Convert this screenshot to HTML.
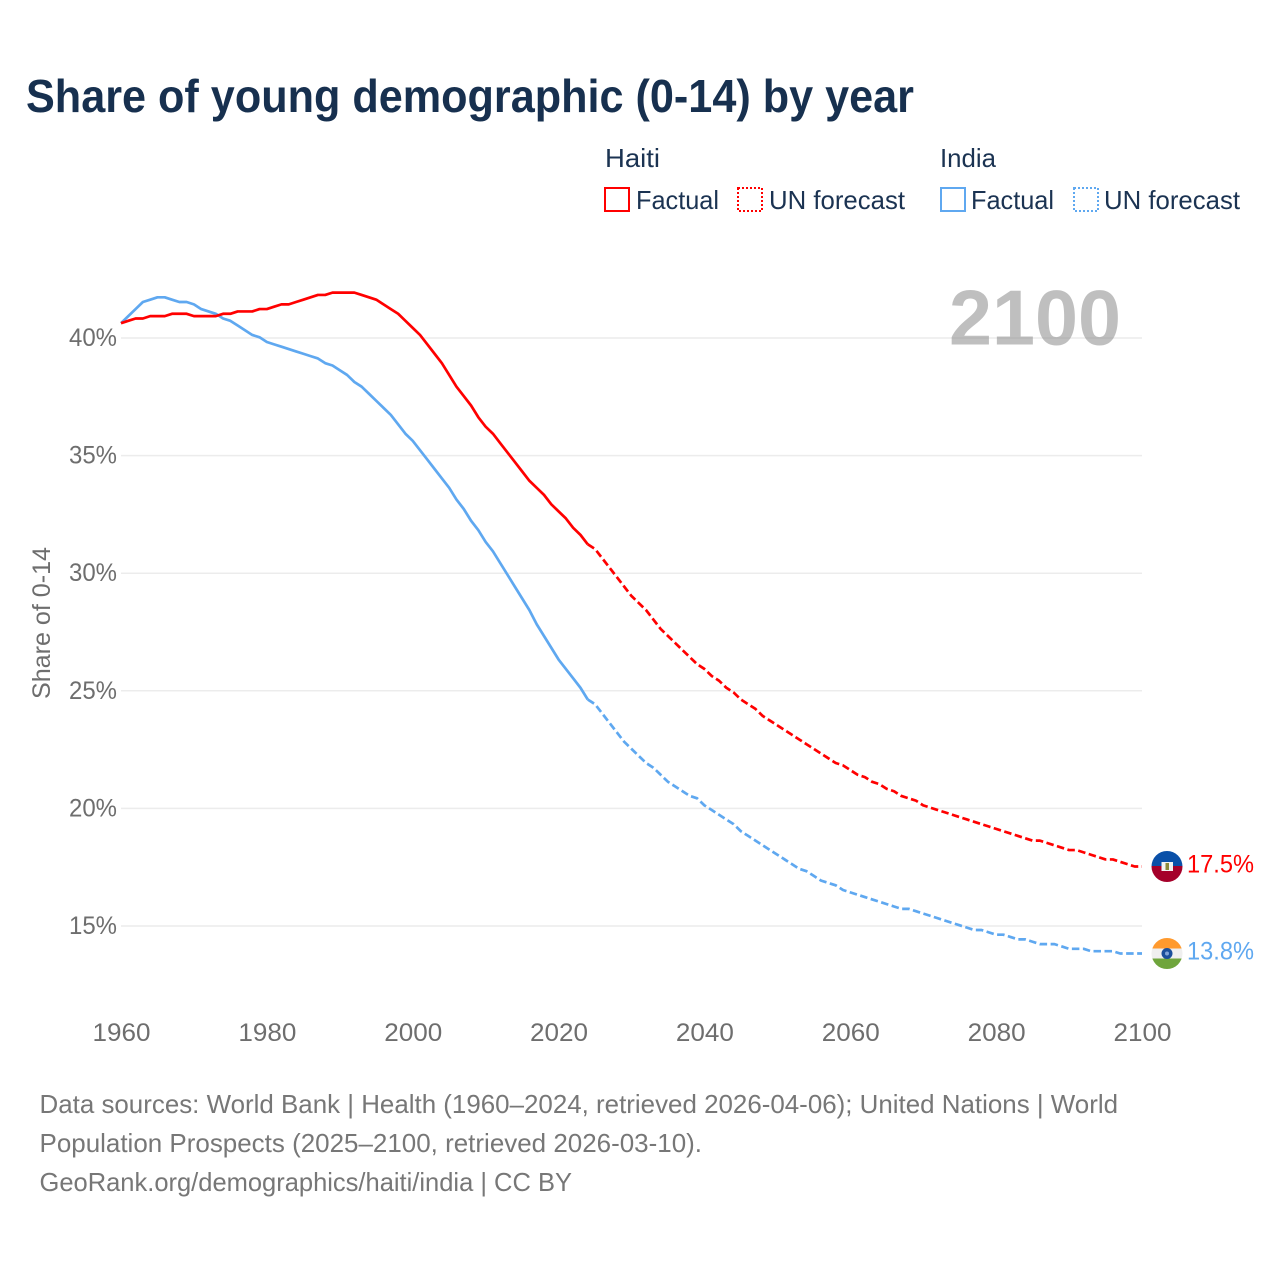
<!DOCTYPE html>
<html lang="en">
<head>
<meta charset="utf-8">
<title>Share of young demographic (0-14) by year</title>
<style>
html,body{margin:0;padding:0;background:#fff;width:1280px;height:1280px;overflow:hidden}
svg{display:block}
text{font-family:"Liberation Sans",sans-serif}
</style>
</head>
<body>
<svg id="chart" xmlns="http://www.w3.org/2000/svg" width="1280" height="1280" viewBox="0 0 1280 1280">
  <defs>
    <clipPath id="flag-clip-haiti"><circle cx="1167" cy="866.5" r="15.5"/></clipPath>
    <clipPath id="flag-clip-india"><circle cx="1167" cy="953.5" r="15.5"/></clipPath>
  </defs>
  <rect x="0" y="0" width="1280" height="1280" fill="#fff"/>
  <text x="26" y="112" font-size="46" font-weight="700" fill="#17304f" textLength="888" lengthAdjust="spacingAndGlyphs">Share of young demographic (0-14) by year</text>

  <g>
    <text x="605" y="167" font-size="26" fill="#1b3352" textLength="55" lengthAdjust="spacingAndGlyphs">Haiti</text>
    <rect x="605" y="188" width="24" height="23" fill="none" stroke="#ff0000" stroke-width="2"/>
    <text x="636" y="209" font-size="26" fill="#1b3352" textLength="83" lengthAdjust="spacingAndGlyphs">Factual</text>
    <rect x="738" y="188" width="24" height="23" fill="none" stroke="#ff0000" stroke-width="2" stroke-dasharray="2 2"/>
    <text x="769" y="209" font-size="26" fill="#1b3352" textLength="136" lengthAdjust="spacingAndGlyphs">UN forecast</text>
    <text x="940" y="167" font-size="26" fill="#1b3352" textLength="56" lengthAdjust="spacingAndGlyphs">India</text>
    <rect x="941" y="188" width="24" height="23" fill="none" stroke="#5fa8f0" stroke-width="2"/>
    <text x="971" y="209" font-size="26" fill="#1b3352" textLength="83" lengthAdjust="spacingAndGlyphs">Factual</text>
    <rect x="1074" y="188" width="24" height="23" fill="none" stroke="#5fa8f0" stroke-width="2" stroke-dasharray="2 2"/>
    <text x="1104" y="209" font-size="26" fill="#1b3352" textLength="136" lengthAdjust="spacingAndGlyphs">UN forecast</text>
  </g>

  <g id="grid"></g>
  <text x="949" y="344.5" font-size="78" font-weight="700" fill="#808080" fill-opacity="0.5" textLength="172" lengthAdjust="spacingAndGlyphs">2100</text>
  <g id="y-axis"></g>
  <g id="x-axis"></g>
  <text transform="translate(50,623) rotate(-90)" text-anchor="middle" font-size="25" fill="#6e6e6e" textLength="152" lengthAdjust="spacingAndGlyphs">Share of 0-14</text>
  <g id="series" transform="translate(0,-0.7)"></g>

  <g clip-path="url(#flag-clip-haiti)">
    <rect x="1151" y="851" width="32" height="15" fill="#0a50a8"/>
    <rect x="1151" y="866" width="32" height="16" fill="#a5002a"/>
    <rect x="1161.5" y="862" width="11.5" height="9" fill="#f2f2f2"/>
    <rect x="1165.5" y="863" width="3.5" height="7" fill="#8a8a3a"/>
  </g>
  <g clip-path="url(#flag-clip-india)">
    <rect x="1151" y="938" width="32" height="10.5" fill="#ff9a2e"/>
    <rect x="1151" y="948.5" width="32" height="10" fill="#efefef"/>
    <rect x="1151" y="958.5" width="32" height="11" fill="#6fa53c"/>
    <circle cx="1167" cy="953.5" r="5.5" fill="#1a4f9c"/>
    <circle cx="1167" cy="953.5" r="2" fill="#7fa3d8"/>
  </g>
  <text x="1187" y="872.5" font-size="25" fill="#ff0000" textLength="67" lengthAdjust="spacingAndGlyphs">17.5%</text>
  <text x="1187" y="959.5" font-size="25" fill="#5fa8f0" textLength="67" lengthAdjust="spacingAndGlyphs">13.8%</text>

  <g font-size="26" fill="#777777">
    <text x="39.5" y="1113" textLength="1078.5" lengthAdjust="spacingAndGlyphs">Data sources: World Bank | Health (1960–2024, retrieved 2026-04-06); United Nations | World</text>
    <text x="39.5" y="1152" textLength="662.5" lengthAdjust="spacingAndGlyphs">Population Prospects (2025–2100, retrieved 2026-03-10).</text>
    <text x="39.5" y="1191" textLength="532.5" lengthAdjust="spacingAndGlyphs">GeoRank.org/demographics/haiti/india | CC BY</text>
  </g>
</svg>
<script>
const xTickYears = [1960, 1980, 2000, 2020, 2040, 2060, 2080, 2100];
const yTickValues = [15, 20, 25, 30, 35, 40];
const factualStartYear = 1960;
const forecastStartYear = 2024;
const haitiFactual = [
  40.6, 40.7, 40.8, 40.8, 40.9, 40.9, 40.9, 41.0, 41.0, 41.0,
  40.9, 40.9, 40.9, 40.9, 41.0, 41.0, 41.1, 41.1, 41.1, 41.2,
  41.2, 41.3, 41.4, 41.4, 41.5, 41.6, 41.7, 41.8, 41.8, 41.9,
  41.9, 41.9, 41.9, 41.8, 41.7, 41.6, 41.4, 41.2, 41.0, 40.7,
  40.4, 40.1, 39.7, 39.3, 38.9, 38.4, 37.9, 37.5, 37.1, 36.6,
  36.2, 35.9, 35.5, 35.1, 34.7, 34.3, 33.9, 33.6, 33.3, 32.9,
  32.6, 32.3, 31.9, 31.6, 31.2
];
const haitiForecast = [
  31.2, 31.0, 30.6, 30.2, 29.8, 29.4, 29.0, 28.7, 28.4, 28.0,
  27.6, 27.3, 27.0, 26.7, 26.4, 26.1, 25.9, 25.6, 25.4, 25.1,
  24.9, 24.6, 24.4, 24.2, 23.9, 23.7, 23.5, 23.3, 23.1, 22.9,
  22.7, 22.5, 22.3, 22.1, 21.9, 21.8, 21.6, 21.4, 21.3, 21.1,
  21.0, 20.8, 20.7, 20.5, 20.4, 20.3, 20.1, 20.0, 19.9, 19.8,
  19.7, 19.6, 19.5, 19.4, 19.3, 19.2, 19.1, 19.0, 18.9, 18.8,
  18.7, 18.6, 18.6, 18.5, 18.4, 18.3, 18.2, 18.2, 18.1, 18.0,
  17.9, 17.8, 17.8, 17.7, 17.6, 17.5, 17.5
];
const indiaFactual = [
  40.6, 40.9, 41.2, 41.5, 41.6, 41.7, 41.7, 41.6, 41.5, 41.5,
  41.4, 41.2, 41.1, 41.0, 40.8, 40.7, 40.5, 40.3, 40.1, 40.0,
  39.8, 39.7, 39.6, 39.5, 39.4, 39.3, 39.2, 39.1, 38.9, 38.8,
  38.6, 38.4, 38.1, 37.9, 37.6, 37.3, 37.0, 36.7, 36.3, 35.9,
  35.6, 35.2, 34.8, 34.4, 34.0, 33.6, 33.1, 32.7, 32.2, 31.8,
  31.3, 30.9, 30.4, 29.9, 29.4, 28.9, 28.4, 27.8, 27.3, 26.8,
  26.3, 25.9, 25.5, 25.1, 24.6
];
const indiaForecast = [
  24.6, 24.4, 24.0, 23.6, 23.2, 22.8, 22.5, 22.2, 21.9, 21.7,
  21.4, 21.1, 20.9, 20.7, 20.5, 20.4, 20.1, 19.9, 19.7, 19.5,
  19.3, 19.0, 18.8, 18.6, 18.4, 18.2, 18.0, 17.8, 17.6, 17.4,
  17.3, 17.1, 16.9, 16.8, 16.7, 16.5, 16.4, 16.3, 16.2, 16.1,
  16.0, 15.9, 15.8, 15.7, 15.7, 15.6, 15.5, 15.4, 15.3, 15.2,
  15.1, 15.0, 14.9, 14.8, 14.8, 14.7, 14.6, 14.6, 14.5, 14.4,
  14.4, 14.3, 14.2, 14.2, 14.2, 14.1, 14.0, 14.0, 14.0, 13.9,
  13.9, 13.9, 13.9, 13.8, 13.8, 13.8, 13.8
];

const SVG_NS = 'http://www.w3.org/2000/svg';
function xScale(year) { return 121 + (year - 1960) * (1142 - 121) / 140; }
function yScale(pct) { return 338 + (40 - pct) * (926 - 338) / 25; }
function make(tag) { return document.createElementNS(SVG_NS, tag); }
function linePath(values, startYear) {
  return values.map(function (v, i) {
    return (i ? 'L' : 'M') + xScale(startYear + i).toFixed(2) + ' ' + yScale(v).toFixed(2);
  }).join(' ');
}

const gridGroup = document.getElementById('grid');
const yAxisGroup = document.getElementById('y-axis');
const xAxisGroup = document.getElementById('x-axis');
const seriesGroup = document.getElementById('series');

yTickValues.forEach(function (v) {
  const grid = make('line');
  
  
  grid.setAttribute('x1', 121);
  grid.setAttribute('x2', 1142);
  grid.setAttribute('y1', yScale(v));
  grid.setAttribute('y2', yScale(v));
  grid.setAttribute('stroke', '#ececec');
  grid.setAttribute('stroke-width', 1.5);
  gridGroup.appendChild(grid);

  const label = make('text');
  
  
  label.setAttribute('x', 69);
  label.setAttribute('y', yScale(v) + 8);
  label.setAttribute('font-size', 25);
  label.setAttribute('fill', '#6e6e6e');
  label.setAttribute('textLength', 48);
  label.setAttribute('lengthAdjust', 'spacingAndGlyphs');
  label.textContent = v + '%';
  yAxisGroup.appendChild(label);
});

xTickYears.forEach(function (year) {
  const label = make('text');
  
  
  label.setAttribute('x', xScale(year) - 28.5);
  label.setAttribute('y', 1041);
  label.setAttribute('font-size', 25);
  label.setAttribute('fill', '#6e6e6e');
  label.setAttribute('textLength', 58);
  label.setAttribute('lengthAdjust', 'spacingAndGlyphs');
  label.textContent = year;
  xAxisGroup.appendChild(label);
});

function drawLine(values, startYear, color, dash, name) {
  const path = make('path');
  
  
  path.setAttribute('d', linePath(values, startYear));
  path.setAttribute('fill', 'none');
  path.setAttribute('stroke', color);
  path.setAttribute('stroke-width', 2.7);
  path.setAttribute('stroke-linejoin', 'round');
  if (dash) path.setAttribute('stroke-dasharray', dash);
  seriesGroup.appendChild(path);
}

drawLine(indiaFactual, factualStartYear, '#5fa8f0', null, 'india-factual-line');
drawLine(indiaForecast, forecastStartYear, '#5fa8f0', '7.5 3.5', 'india-forecast-line');
drawLine(haitiFactual, factualStartYear, '#ff0000', null, 'haiti-factual-line');
drawLine(haitiForecast, forecastStartYear, '#ff0000', '7.5 3.5', 'haiti-forecast-line');
</script>
</body>
</html>
